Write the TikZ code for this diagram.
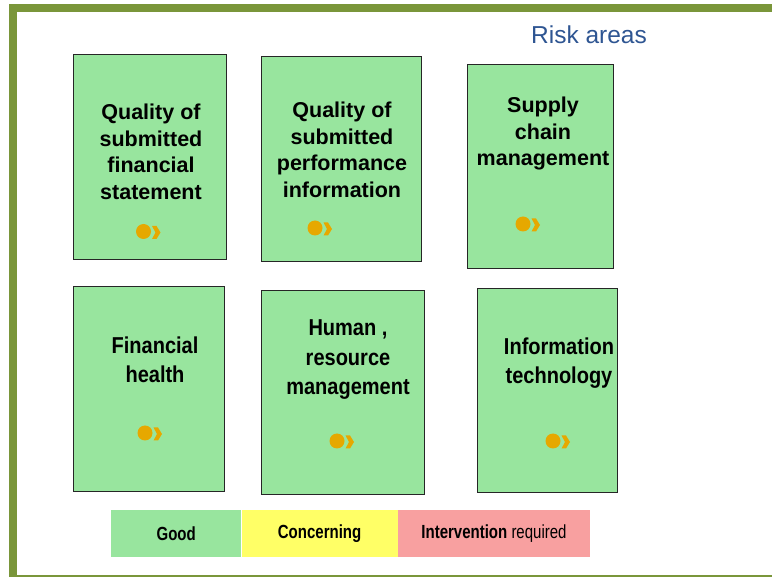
\documentclass[tikz,border=0pt]{standalone}
\usepackage{fontspec}
\setmainfont{Liberation Sans}
\newfontfamily\narrowsans[FakeStretch=0.87]{Liberation Sans}
\newfontfamily\legendsans[FakeStretch=0.79]{Liberation Sans}
\usetikzlibrary{positioning}

\definecolor{framegreen}{RGB}{122,150,58}
\definecolor{boxgreen}{RGB}{152,229,158}
\definecolor{okyellow}{RGB}{255,255,102}
\definecolor{alertpink}{RGB}{248,160,160}
\definecolor{dotorange}{RGB}{230,168,0}
\definecolor{titleblue}{RGB}{46,85,146}

\tikzset{
  riskbox/.style={draw=black!85, line width=1pt, fill=boxgreen, anchor=north west, inner sep=0pt},
  toptext/.style={align=center, font=\fontsize{21.5}{26.5}\selectfont\bfseries, inner sep=0pt},
  lowtext/.style={align=center, font=\narrowsans\fontsize{23}{29.5}\selectfont\bfseries, inner sep=0pt},
  legend/.style={minimum height=47pt, inner sep=0pt, font=\legendsans\fontsize{19}{21}\selectfont},
  statusmark/.pic={
    \fill[dotorange] (0,0) circle (7.5);
    \fill[dotorange] (8.5,-5.5) -- (13,-5.5) -- (17,1) -- (13,7.5) -- (8.5,7.5) -- (12,1) -- cycle;
  }
}

\begin{document}
\begin{tikzpicture}[x=1pt, y=-1pt]
\useasboundingbox (0,0) rectangle (772,577);

% frame
\fill[framegreen] (9,4) rectangle (772,12);
\fill[framegreen] (9,4) rectangle (16.5,577);
\fill[framegreen] (9,575) rectangle (772,577);

\node[text=titleblue, font=\fontsize{24.5}{28}\selectfont] (title) at (589,35) {Risk areas};

% risk area boxes
\node[riskbox, minimum width=153pt, minimum height=205pt] (finstat) at (73,54) {};
\node[riskbox, minimum width=160pt, minimum height=205pt] (perfinfo) at (261,56) {};
\node[riskbox, minimum width=146pt, minimum height=204pt] (supply) at (467,64) {};
\node[riskbox, minimum width=151pt, minimum height=205pt] (health) at (73,286) {};
\node[riskbox, minimum width=163pt, minimum height=204pt] (human) at (261,290) {};
\node[riskbox, minimum width=140pt, minimum height=204pt] (infotech) at (477,288) {};

\node[toptext] (finstat text) at (151,152) {Quality of\\submitted\\financial\\statement};
\node[toptext] (perfinfo text) at (342,150) {Quality of\\submitted\\performance\\information};
\node[toptext] (supply text) at (543,133.5) {Supply\\chain\\management};
\node[lowtext] (health text) at (155,360) {Financial\\health};
\node[lowtext] (human text) at (348,360) {Human ,\\resource\\management};
\node[lowtext] (infotech text) at (559,363) {Information\\technology};

% status marks
\pic at (143.5,231.5) {statusmark};
\pic at (315,228) {statusmark};
\pic at (523,224) {statusmark};
\pic at (145,433) {statusmark};
\pic at (337,441) {statusmark};
\pic at (553,441) {statusmark};

% legend
\node[legend, fill=boxgreen, minimum width=130pt, anchor=west] (good) at (111,533.5) {\bfseries Good};
\node[legend, fill=okyellow, minimum width=156pt, right=0pt of good] (concern) {\raisebox{2pt}{\bfseries Concerning}};
\node[legend, fill=alertpink, minimum width=192pt, right=0pt of concern] (intervene) {\textbf{Intervention} required};
\end{tikzpicture}
\end{document}
